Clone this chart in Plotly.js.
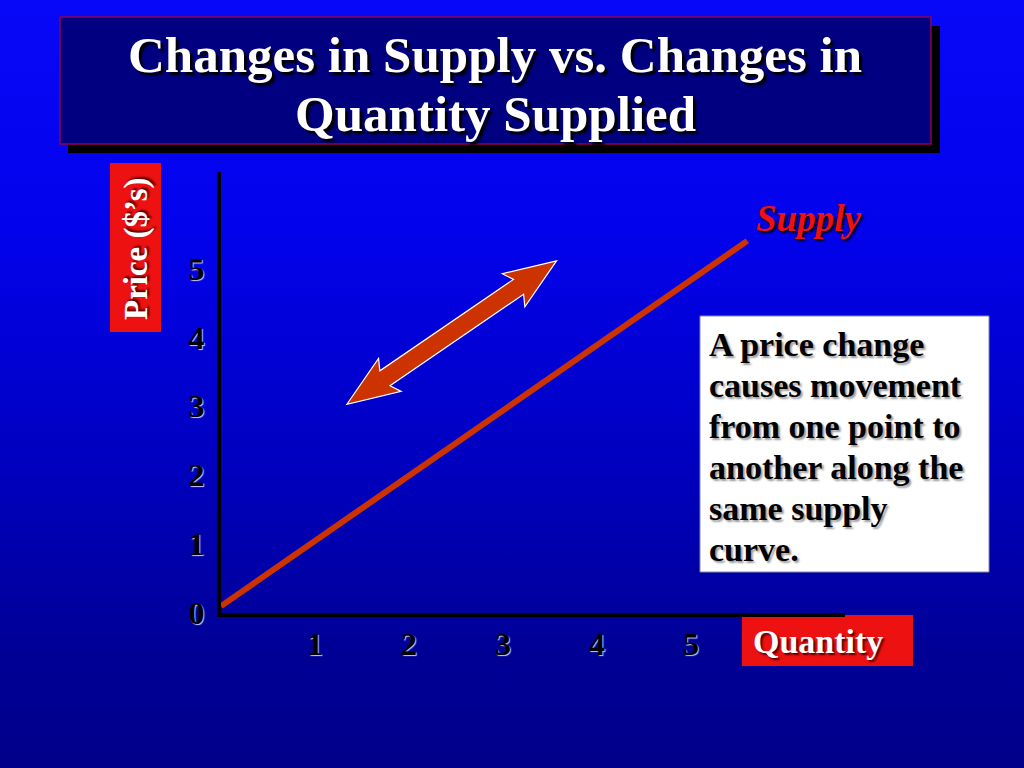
<!DOCTYPE html>
<html><head><meta charset="utf-8">
<script src="https://cdn.plot.ly/plotly-3.0.1.min.js"></script>
<style>
html,body{margin:0;padding:0;background:#000088;}
#chart{width:1024px;height:768px;background:linear-gradient(to bottom,#0808f8 0%,#0202ec 30%,#0000c0 60%,#000096 85%,#00008a 100%);}
</style>
</head><body><div id="chart"></div>
<script>
// ---- data ----
const quantityTicks = [1, 2, 3, 4, 5];
const priceTicks = [0, 1, 2, 3, 4, 5];
const supplyQuantity = [0, 5.6];
const supplyPrice = [0.1, 5.4];
const arrowFrom = [1.34, 3.03];   // [quantity, price]
const arrowTo = [3.57, 5.11];
const titleLines = ['Changes in Supply vs. Changes in', 'Quantity Supplied'];
const noteLines = ['A price change', 'causes movement', 'from one point to', 'another along the', 'same supply', 'curve.'];

// ---- layout geometry ----
const W = 1024, H = 768;
const M = {l: 221, r: 179, t: 172, b: 155};
const PW = W - M.l - M.r, PH = H - M.t - M.b;
const XR = [0, 6.64], YR = [0, 6.4];
const pxX = PW / (XR[1] - XR[0]), pxY = PH / (YR[1] - YR[0]);
const px2x = p => (p - M.l) / PW;          // pixel -> paper
const py2y = p => (H - M.b - p) / PH;

const serif = 'Liberation Serif, Times New Roman, serif';

// double arrow polygon built in screen-pixel offsets then mapped to data units
function arrowPath(a, b) {
  const dx = (b[0] - a[0]) * pxX, dy = (b[1] - a[1]) * pxY;
  const L = Math.hypot(dx, dy);
  const ux = dx / L, uy = dy / L, nx = -uy, ny = ux;
  const cx = (a[0] + b[0]) / 2, cy = (a[1] + b[1]) / 2;
  const hl = 52, hw = 20, sw = 9, notch = 6;
  const pts = [
    [L/2, 0], [L/2 - hl, hw], [L/2 - hl + notch, sw],
    [-L/2 + hl - notch, sw], [-L/2 + hl, hw], [-L/2, 0],
    [-L/2 + hl, -hw], [-L/2 + hl - notch, -sw], [L/2 - hl + notch, -sw], [L/2 - hl, -hw]
  ];
  return pts.map((p, i) => {
    const ox = p[0] * ux + p[1] * nx, oy = p[0] * uy + p[1] * ny;
    return (i ? 'L' : 'M') + (cx + ox / pxX).toFixed(4) + ',' + (cy + oy / pxY).toFixed(4);
  }).join(' ') + ' Z';
}

const traces = [{
  x: supplyQuantity, y: supplyPrice, type: 'scatter', mode: 'lines',
  line: {color: '#cc3300', width: 6}, hoverinfo: 'skip', showlegend: false
}];

const tickShadow = '1px 1px 1px rgba(215,215,255,0.95)';
const tickFont = {family: serif, size: 32, color: '#000', weight: 'bold', shadow: tickShadow};

const annotations = [
  {xref: 'paper', yref: 'paper', x: px2x(136), y: py2y(249), xanchor: 'center', yanchor: 'middle',
   text: 'Price ($’s)', textangle: -90, showarrow: false,
   font: {family: serif, size: 33, color: '#ffffff', weight: 'bold', shadow: '2px 2px 2px #550000'}},
  {xref: 'paper', yref: 'paper', x: px2x(818), y: py2y(641), xanchor: 'center', yanchor: 'middle',
   text: 'Quantity', showarrow: false,
   font: {family: serif, size: 34, color: '#ffffff', weight: 'bold', shadow: '2px 2px 2px #550000'}},
  {xref: 'paper', yref: 'paper', x: px2x(808), y: py2y(218), xanchor: 'center', yanchor: 'middle',
   text: '<i>Supply</i>', showarrow: false,
   font: {family: serif, size: 37, color: '#ee1111', weight: 'bold', shadow: '2px 2px 2px #000'}}
];
const titleY = [55, 114];
titleLines.forEach((t, i) => annotations.push({
  xref: 'paper', yref: 'paper', x: px2x(495), y: py2y(titleY[i]), xanchor: 'center', yanchor: 'middle',
  text: t, showarrow: false,
  font: {family: serif, size: 51, color: '#ffffff', weight: 'bold', shadow: '3px 3px 2px #000'}
}));
noteLines.forEach((t, i) => annotations.push({
  xref: 'paper', yref: 'paper', x: px2x(707), y: py2y(344 + i * 41), xanchor: 'left', yanchor: 'middle',
  text: t, showarrow: false,
  font: {family: serif, size: 34, color: '#000000', weight: 'bold', shadow: '2px 2px 2px #9a9a9a'}
}));

const layout = {
  width: W, height: H,
  margin: M,
  paper_bgcolor: 'rgba(0,0,0,0)', plot_bgcolor: 'rgba(0,0,0,0)',
  showlegend: false,
  xaxis: {
    range: XR, showgrid: false, zeroline: false, showline: true,
    linecolor: '#000', linewidth: 4, ticks: '',
    tickvals: quantityTicks, ticktext: quantityTicks.map(String),
    ticklabelstandoff: 0, tickfont: tickFont, fixedrange: true
  },
  yaxis: {
    range: YR, showgrid: false, zeroline: false, showline: true,
    linecolor: '#000', linewidth: 4, ticks: '',
    tickvals: priceTicks, ticktext: priceTicks.map(String),
    ticklabelstandoff: 6, tickfont: tickFont, fixedrange: true
  },
  shapes: [
    {type: 'rect', xref: 'paper', yref: 'paper', x0: px2x(68), x1: px2x(940), y0: py2y(26), y1: py2y(153),
     fillcolor: '#000000', line: {width: 0}, layer: 'below'},
    {type: 'rect', xref: 'paper', yref: 'paper', x0: px2x(60), x1: px2x(931), y0: py2y(17), y1: py2y(144),
     fillcolor: '#000080', line: {color: '#900050', width: 1.5}, layer: 'below'},
    {type: 'rect', xref: 'paper', yref: 'paper', x0: px2x(110), x1: px2x(161), y0: py2y(163), y1: py2y(332),
     fillcolor: '#ee1111', line: {width: 0}, layer: 'below'},
    {type: 'rect', xref: 'paper', yref: 'paper', x0: px2x(742), x1: px2x(913), y0: py2y(615), y1: py2y(666),
     fillcolor: '#ee1111', line: {width: 0}, layer: 'below'},
    {type: 'rect', xref: 'paper', yref: 'paper', x0: px2x(700), x1: px2x(989), y0: py2y(316), y1: py2y(572),
     fillcolor: '#ffffff', line: {color: '#8888aa', width: 1}, layer: 'above'},
    {type: 'path', xref: 'x', yref: 'y', path: arrowPath(arrowFrom, arrowTo),
     fillcolor: '#cc3300', line: {color: '#ffffff', width: 1.2}, layer: 'above'}
  ],
  annotations: annotations
};

Plotly.newPlot('chart', traces, layout, {displayModeBar: false, staticPlot: true});
</script>
</body></html>
